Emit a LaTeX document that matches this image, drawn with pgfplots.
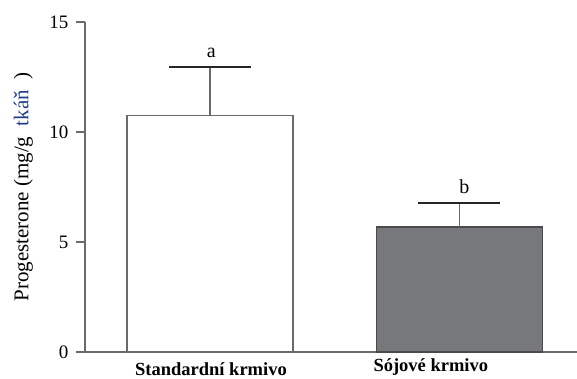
\documentclass[border=0pt]{standalone}
\usepackage{pgfplots}
\pgfplotsset{compat=1.18}
\usepackage{fontspec}
\setmainfont{Liberation Serif}
\definecolor{axgray}{HTML}{6A6A6A}
\definecolor{barfill}{HTML}{77787C}
\definecolor{baredge}{HTML}{4A4A4A}
\definecolor{tkblue}{HTML}{1F3C88}
\begin{document}
\begin{tikzpicture}
\path[use as bounding box] (-85pt,-26pt) rectangle (492pt,352pt);
\begin{axis}[
  scale only axis,
  width=492pt, height=330pt,
  at={(0,0)}, anchor=south west,
  xmin=-0.501, xmax=1.471,
  ymin=0, ymax=15,
  axis x line=bottom, axis y line=left,
  axis line style={draw=axgray, line width=1.2pt, -},
  ytick={0,5,10,15},
  yticklabels={0,5,10,15},
  tick style={draw=axgray, line width=1.2pt},
  ytick align=outside, major tick length=9pt,
  xtick=\empty,
  every y tick label/.append style={font=\fontsize{19}{21}\selectfont, xshift=-4pt},
  ylabel={Progesterone (mg/g\ \ \textcolor{tkblue}{tkáň}\ \ )},
  ylabel style={font=\fontsize{21}{23}\selectfont, at={(axis description cs:-0.1057,0.50)},
    anchor=south, inner sep=0pt},
  clip=false,
]
\addplot[ybar, bar width=166pt, fill=white, draw=axgray, line width=1.1pt,
  error bars/.cd, y dir=plus, y explicit,
  error bar style={draw=axgray, line width=1.1pt},
  error mark options={draw=black!85, line width=1.6pt, mark size=41pt, rotate=90}]
  coordinates {(0,10.73) +- (0,2.22)};
\addplot[ybar, bar width=166pt, fill=barfill, draw=baredge, line width=1.1pt,
  error bars/.cd, y dir=plus, y explicit,
  error bar style={draw=axgray, line width=1.1pt},
  error mark options={draw=black!85, line width=1.6pt, mark size=41pt, rotate=90}]
  coordinates {(1,5.68) +- (0,1.09)};
\node[font=\fontsize{20}{22}\selectfont, anchor=base, inner sep=0pt] at ([yshift=10pt]axis cs:0.005,12.95) {a};
\node[font=\fontsize{20}{22}\selectfont, anchor=base, inner sep=0pt] at ([yshift=10pt]axis cs:1.02,6.77) {b};
\node[font=\fontsize{18.5}{20}\selectfont\bfseries, anchor=base, inner sep=0pt] at ([yshift=-23pt]axis cs:0.004,0) {Standardní krmivo};
\node[font=\fontsize{18.5}{20}\selectfont\bfseries, anchor=base, inner sep=0pt] at ([yshift=-19pt]axis cs:0.885,0) {Sójové krmivo};
\end{axis}
\end{tikzpicture}
\end{document}
